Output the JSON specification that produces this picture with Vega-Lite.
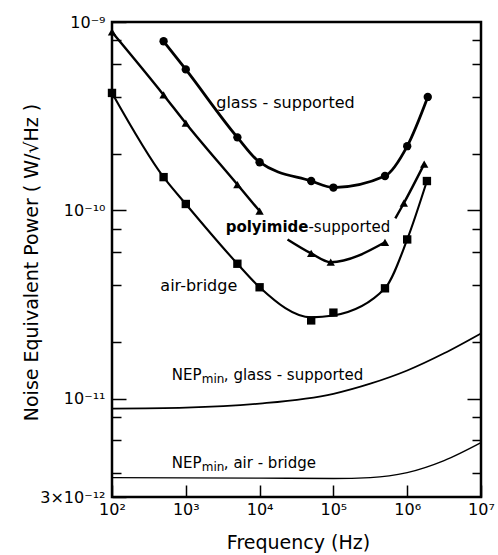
{
  "$schema": "https://vega.github.io/schema/vega-lite/v6.json",
  "width": 369,
  "height": 475,
  "autosize": {"type": "none"},
  "padding": {"left": 112, "top": 22, "right": 17, "bottom": 58},
  "background": "white",
  "config": {
    "view": {"stroke": "black", "strokeWidth": 2.5},
    "font": "DejaVu Sans",
    "text": {"font": "DejaVu Sans", "color": "black"},
    "axis": {"grid": false, "domain": false, "tickColor": "black", "labelColor": "black", "titleColor": "black", "labelFont": "DejaVu Sans", "titleFont": "DejaVu Sans", "labelFlush": false, "labelOverlap": false, "titleFontWeight": "normal"}
  },
  "datasets": {
    "lines": [
      {"s": "glass", "g": "g1", "f": 500, "p": 7.9e-10},
      {"s": "glass", "g": "g1", "f": 1000, "p": 5.6e-10},
      {"s": "glass", "g": "g1", "f": 5000, "p": 2.44e-10},
      {"s": "glass", "g": "g1", "f": 10000, "p": 1.8e-10},
      {"s": "glass", "g": "g1", "f": 50000, "p": 1.43e-10},
      {"s": "glass", "g": "g1", "f": 100000, "p": 1.32e-10},
      {"s": "glass", "g": "g1", "f": 500000, "p": 1.52e-10},
      {"s": "glass", "g": "g1", "f": 1000000, "p": 2.19e-10},
      {"s": "glass", "g": "g1", "f": 1900000, "p": 4.0e-10},
      {"s": "poly", "g": "p1", "f": 100, "p": 8.85e-10},
      {"s": "poly", "g": "p1", "f": 500, "p": 4.1e-10},
      {"s": "poly", "g": "p1", "f": 1000, "p": 2.9e-10},
      {"s": "poly", "g": "p1", "f": 5000, "p": 1.37e-10},
      {"s": "poly", "g": "p1", "f": 10000, "p": 9.9e-11},
      {"s": "poly", "g": "p2", "f": 23900, "p": 7.0e-11},
      {"s": "poly", "g": "p2", "f": 50000, "p": 5.9e-11},
      {"s": "poly", "g": "p2", "f": 92000, "p": 5.3e-11},
      {"s": "poly", "g": "p2", "f": 500000, "p": 6.76e-11},
      {"s": "poly", "g": "p3", "f": 690000, "p": 9.06e-11},
      {"s": "poly", "g": "p3", "f": 900000, "p": 1.09e-10},
      {"s": "poly", "g": "p3", "f": 1700000, "p": 1.76e-10},
      {"s": "air", "g": "a1", "f": 100, "p": 4.2e-10},
      {"s": "air", "g": "a1", "f": 500, "p": 1.5e-10},
      {"s": "air", "g": "a1", "f": 1000, "p": 1.08e-10},
      {"s": "air", "g": "a1", "f": 5000, "p": 5.2e-11},
      {"s": "air", "g": "a1", "f": 10000, "p": 3.9e-11},
      {"s": "air", "g": "a1", "f": 50000, "p": 2.7e-11},
      {"s": "air", "g": "a1", "f": 100000, "p": 2.76e-11},
      {"s": "air", "g": "a1", "f": 500000, "p": 3.85e-11},
      {"s": "air", "g": "a1", "f": 1000000, "p": 7.0e-11},
      {"s": "air", "g": "a1", "f": 1850000, "p": 1.43e-10},
      {"s": "nepg", "g": "n1", "f": 100, "p": 8.85e-12},
      {"s": "nepg", "g": "n1", "f": 1000, "p": 8.95e-12},
      {"s": "nepg", "g": "n1", "f": 10000, "p": 9.4e-12},
      {"s": "nepg", "g": "n1", "f": 100000, "p": 1.06e-11},
      {"s": "nepg", "g": "n1", "f": 316000, "p": 1.2e-11},
      {"s": "nepg", "g": "n1", "f": 1000000, "p": 1.41e-11},
      {"s": "nepg", "g": "n1", "f": 3160000, "p": 1.74e-11},
      {"s": "nepg", "g": "n1", "f": 10000000, "p": 2.22e-11},
      {"s": "nepa", "g": "n2", "f": 100, "p": 3.8e-12},
      {"s": "nepa", "g": "n2", "f": 10000, "p": 3.78e-12},
      {"s": "nepa", "g": "n2", "f": 100000, "p": 3.76e-12},
      {"s": "nepa", "g": "n2", "f": 316000, "p": 3.8e-12},
      {"s": "nepa", "g": "n2", "f": 1000000, "p": 4.04e-12},
      {"s": "nepa", "g": "n2", "f": 3160000, "p": 4.68e-12},
      {"s": "nepa", "g": "n2", "f": 10000000, "p": 5.83e-12}
    ],
    "markers": [
      {"s": "glass", "f": 500, "p": 7.9e-10},
      {"s": "glass", "f": 1000, "p": 5.6e-10},
      {"s": "glass", "f": 5000, "p": 2.44e-10},
      {"s": "glass", "f": 10000, "p": 1.8e-10},
      {"s": "glass", "f": 50000, "p": 1.43e-10},
      {"s": "glass", "f": 100000, "p": 1.32e-10},
      {"s": "glass", "f": 500000, "p": 1.52e-10},
      {"s": "glass", "f": 1000000, "p": 2.19e-10},
      {"s": "glass", "f": 1900000, "p": 4.0e-10},
      {"s": "poly", "f": 100, "p": 8.85e-10},
      {"s": "poly", "f": 500, "p": 4.1e-10},
      {"s": "poly", "f": 1000, "p": 2.9e-10},
      {"s": "poly", "f": 5000, "p": 1.37e-10},
      {"s": "poly", "f": 10000, "p": 9.9e-11},
      {"s": "poly", "f": 50000, "p": 5.9e-11},
      {"s": "poly", "f": 92000, "p": 5.3e-11},
      {"s": "poly", "f": 500000, "p": 6.76e-11},
      {"s": "poly", "f": 900000, "p": 1.09e-10},
      {"s": "poly", "f": 1700000, "p": 1.76e-10},
      {"s": "air", "f": 100, "p": 4.2e-10},
      {"s": "air", "f": 500, "p": 1.5e-10},
      {"s": "air", "f": 1000, "p": 1.08e-10},
      {"s": "air", "f": 5000, "p": 5.2e-11},
      {"s": "air", "f": 10000, "p": 3.9e-11},
      {"s": "air", "f": 50000, "p": 2.6e-11},
      {"s": "air", "f": 100000, "p": 2.86e-11},
      {"s": "air", "f": 500000, "p": 3.85e-11},
      {"s": "air", "f": 1000000, "p": 7.0e-11},
      {"s": "air", "f": 1850000, "p": 1.43e-10}
    ],
    "labels": [
      {"t": "glass - supported", "f": 22400, "p": 3.71e-10},
      {"t": "air-bridge", "f": 1500, "p": 3.94e-11}
    ],
    "nepLabels": [
      {"rest": ", glass - supported", "f": 647, "p": 1.26e-11},
      {"rest": ", air - bridge", "f": 647, "p": 4.3e-12}
    ],
    "polyLabel": [
      {"a": "polyimide", "b": "-supported", "f": 45900, "p": 8.13e-11}
    ]
  },
  "encoding": {
    "x": {
      "field": "f", "type": "quantitative",
      "scale": {"type": "log", "domain": [100, 10000000], "nice": false},
      "axis": {
        "values": [100, 1000, 10000, 100000, 1000000, 10000000],
        "tickSize": -12, "tickWidth": 1.5,
        "labelFontSize": 16, "labelPadding": 16,
        "labelExpr": "'10' + ['⁰','¹','²','³','⁴','⁵','⁶','⁷'][round(log(datum.value)/LN10)]",
        "title": "Frequency (Hz)", "titleFontSize": 19,
        "titleX": 186, "titleY": 51, "titleBaseline": "alphabetic", "titleAlign": "center"
      }
    },
    "y": {
      "field": "p", "type": "quantitative",
      "scale": {"type": "log", "domain": [3e-12, 1e-9], "nice": false},
      "axis": null
    }
  },
  "layer": [
    {
      "data": {"name": "lines"},
      "mark": {"type": "line", "interpolate": "monotone", "color": "black"},
      "encoding": {
        "detail": {"field": "g", "type": "nominal"},
        "strokeWidth": {"field": "s", "type": "nominal", "scale": {"domain": ["glass", "poly", "air", "nepg", "nepa"], "range": [2.8, 1.4, 2.8, 2, 2]}, "legend": null},
        "y": {
          "field": "p", "type": "quantitative",
          "scale": {"type": "log", "domain": [3e-12, 1e-9], "nice": false},
          "axis": {
            "orient": "left",
            "values": [3e-12, 4e-12, 6e-12, 8e-12, 1e-11, 2e-11, 4e-11, 6e-11, 8e-11, 1e-10, 2e-10, 4e-10, 6e-10, 8e-10, 1e-9],
            "tickSize": {"condition": {"test": "datum.value < 3.5e-12 || abs(log(datum.value)/LN10 - round(log(datum.value)/LN10)) < 0.001", "value": -14}, "value": -9},
            "tickWidth": 1.5,
            "labelExpr": "datum.value < 3.5e-12 ? '3×10⁻¹²' : abs(datum.value/1e-9 - 1) < 0.01 ? '10⁻⁹' : abs(datum.value/1e-10 - 1) < 0.01 ? '10⁻¹⁰' : abs(datum.value/1e-11 - 1) < 0.01 ? '10⁻¹¹' : ''",
            "labelFontSize": 16, "labelPadding": 21, "labelBaseline": "middle",
            "title": "Noise Equivalent Power  ( W/√Hz )", "titleFontSize": 19,
            "titleX": -75, "titleY": 240, "titleAngle": 270, "titleBaseline": "alphabetic", "titleAlign": "center"
          }
        }
      }
    },
    {
      "data": {"name": "markers"},
      "mark": {"type": "point", "filled": true, "color": "black", "opacity": 1},
      "encoding": {
        "shape": {"field": "s", "type": "nominal", "scale": {"domain": ["glass", "poly", "air"], "range": ["circle", "triangle-up", "square"]}, "legend": null},
        "size": {"value": 70},
        "y": {
          "field": "p", "type": "quantitative",
          "scale": {"type": "log", "domain": [3e-12, 1e-9], "nice": false},
          "axis": {
            "orient": "right",
            "values": [4e-12, 6e-12, 8e-12, 1e-11, 2e-11, 4e-11, 6e-11, 8e-11, 1e-10, 2e-10, 4e-10, 6e-10, 8e-10],
            "tickSize": {"condition": {"test": "abs(log(datum.value)/LN10 - round(log(datum.value)/LN10)) < 0.001", "value": -14}, "value": -9},
            "tickWidth": 1.5,
            "labels": false, "title": null
          }
        }
      }
    },
    {
      "data": {"name": "labels"},
      "mark": {"type": "text", "fontSize": 16, "align": "center", "baseline": "middle"},
      "encoding": {"text": {"field": "t"}}
    },
    {
      "data": {"name": "polyLabel"},
      "mark": {"type": "text", "fontSize": 15, "fontWeight": "bold", "align": "right", "baseline": "middle"},
      "encoding": {"text": {"field": "a"}}
    },
    {
      "data": {"name": "polyLabel"},
      "mark": {"type": "text", "fontSize": 15, "align": "left", "baseline": "middle"},
      "encoding": {"text": {"field": "b"}}
    },
    {
      "data": {"name": "nepLabels"},
      "mark": {"type": "text", "fontSize": 15, "align": "left", "baseline": "alphabetic"},
      "encoding": {"text": {"value": "NEP"}}
    },
    {
      "data": {"name": "nepLabels"},
      "mark": {"type": "text", "fontSize": 12, "align": "left", "baseline": "alphabetic", "dx": 30, "dy": 3},
      "encoding": {"text": {"value": "min"}}
    },
    {
      "data": {"name": "nepLabels"},
      "mark": {"type": "text", "fontSize": 15, "align": "left", "baseline": "alphabetic", "dx": 52},
      "encoding": {"text": {"field": "rest"}}
    }
  ],
  "resolve": {"axis": {"y": "independent"}}
}
